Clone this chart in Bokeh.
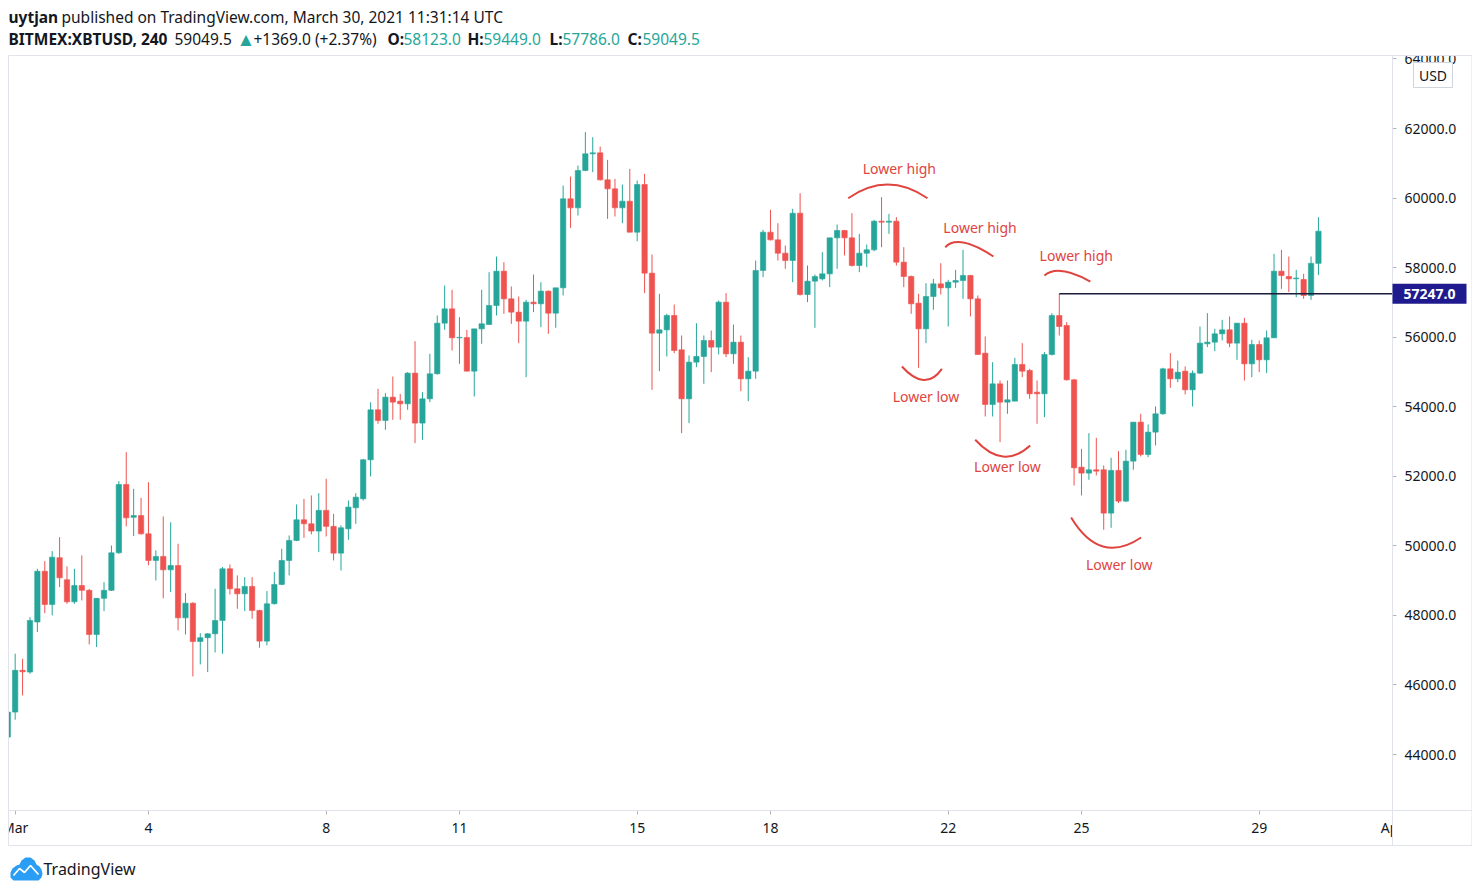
from bokeh.plotting import figure
from bokeh.models import Range1d, FixedTicker, PrintfTickFormatter, ColumnDataSource
from bokeh.core.properties import value
from bokeh.embed import file_html
from bokeh.resources import INLINE

# ---------------- data (4h candles, index 0 = Mar 1 00:00 UTC) ----------------
FIRST_INDEX = -1
opens = [44500, 45220, 46420, 46370, 47810, 49270, 48315, 49660, 49025, 48390,
         48860, 48720, 47450, 48490, 48720, 49800, 51765, 50820, 50870, 50345,
         49580, 49695, 49310, 49435, 47930, 48350, 47250, 47360, 47470, 47855,
         49340, 48765, 48620, 48833, 48143, 47260, 48335, 48890, 49580, 50155,
         50750, 50635, 50425, 51020, 50560, 49790, 50490, 51095, 51353, 52475,
         53912, 53605, 54276, 54160, 54085, 54966, 53530, 54228, 54947, 56403,
         56815, 55982, 55990, 55023, 56240, 56365, 56912, 57898, 57103, 56720,
         56461, 57007, 56960, 57324, 56691, 57420, 59978, 59719, 60793, 61272,
         61300, 60524, 60265, 59719, 59911, 59020, 60390, 57841, 56116, 56212,
         56624, 55637, 54228, 55282, 55445, 55905, 55714, 57007, 55522, 55857,
         54803, 55023, 57918, 59020, 58799, 58416, 58205, 59566, 57227, 57611,
         57678, 57822, 58856, 59067, 58856, 58061, 58416, 58512, 59336, 59307,
         59336, 58157, 57745, 56978, 56240, 57170, 57534, 57419, 57582, 57630,
         57774, 57103, 55541, 54065, 54659, 54132, 54161, 55215, 55043, 54420,
         54372, 55502, 56624, 56336, 54774, 52263, 52091, 52187, 52187, 50941,
         52168, 51286, 52436, 53557, 52627, 53270, 53797, 55090, 54803, 55023,
         54487, 54966, 55810, 55857, 56097, 56212, 55829, 56403, 55234, 55790,
         55349, 55982, 57898, 57745, 57678, 57659, 57199, 58123]
highs = [45250, 46900, 46750, 47950, 49340, 49560, 49850, 50250, 49410, 49340,
         49725, 48760, 48500, 48955, 50010, 51860, 52695, 51640, 51380, 51830,
         49870, 50845, 50680, 50060, 48640, 48380, 47490, 47490, 48765, 49390,
         49465, 49150, 49100, 49100, 48160, 48700, 49245, 49915, 50300, 51190,
         51350, 51450, 51515, 51930, 50920, 50590, 51305, 51515, 52500, 54130,
         54515, 54390, 54870, 54370, 54995, 55885, 54420, 55522, 56625, 57486,
         57362, 56576, 56210, 56240, 57362, 57870, 58320, 58157, 57458, 57170,
         57074, 57803, 57582, 57340, 57420, 60361, 60620, 60936, 61895, 61751,
         61482, 61099, 60553, 60390, 60840, 60505, 60697, 58378, 57247, 56672,
         56940, 56049, 55474, 56403, 56049, 56193, 57055, 57266, 56365, 56049,
         55426, 58205, 59087, 59662, 59278, 58636, 59690, 60141, 58061, 57803,
         58444, 58856, 59240, 59087, 59566, 58972, 58665, 59374, 60026, 59547,
         59451, 58588, 57774, 57247, 57553, 57678, 58128, 57649, 57937, 58511,
         57790, 57199, 56020, 55282, 54755, 54755, 55407, 55829, 55090, 54755,
         55570, 56690, 57247, 56432, 54803, 52790, 53241, 53107, 52311, 52532,
         52723, 52762, 53557, 53797, 53490, 54008, 55120, 55541, 55330, 55157,
         55043, 56307, 56691, 56240, 56499, 56595, 56403, 56557, 55925, 55905,
         56193, 58397, 58512, 58320, 57937, 57822, 58320, 59449]
lows = [44400, 45000, 45700, 46320, 47520, 48065, 48000, 48815, 48335, 48335,
        48430, 47165, 47090, 48125, 48700, 49770, 50560, 50280, 50325, 49440,
        49005, 48490, 48670, 47570, 47450, 46245, 46590, 46370, 46935, 46895,
        48600, 48190, 48123, 47903, 47070, 47135, 48315, 48870, 49150, 50135,
        50230, 50330, 49820, 50270, 49580, 49290, 50175, 50635, 51305, 51995,
        53510, 53337, 53625, 53625, 53912, 52953, 53050, 54132, 54927, 56212,
        55617, 55234, 55020, 54295, 55810, 56365, 56624, 56672, 56384, 55829,
        54851, 56720, 56288, 56097, 56270, 57199, 59144, 59499, 60774, 60745,
        60505, 59403, 59470, 59278, 59020, 58760, 57266, 54487, 55023, 55445,
        55541, 53241, 53529, 55138, 54659, 54995, 55502, 55426, 55234, 54448,
        54161, 54803, 57726, 58780, 58205, 57966, 57582, 57199, 57007, 56269,
        57630, 57438, 57966, 58349, 58032, 57870, 58013, 58473, 58588, 58972,
        58061, 57438, 56672, 55119, 55829, 56787, 57227, 56307, 57419, 57103,
        56595, 55502, 53720, 53720, 52982, 53797, 54161, 54851, 54228, 53509,
        53701, 55474, 56049, 54755, 51736, 51449, 51899, 52024, 50462, 50519,
        51229, 51257, 52187, 52570, 52551, 52887, 53770, 54544, 54707, 54353,
        54008, 54940, 55714, 55599, 55905, 55714, 55349, 54755, 54851, 54995,
        54966, 55982, 57390, 57295, 57151, 57103, 57074, 57786]
closes = [45220, 46420, 46380, 47855, 49270, 48315, 49675, 49080, 48390, 48860,
          48720, 47450, 48490, 48720, 49800, 51765, 50805, 50870, 50345, 49580,
          49695, 49310, 49435, 47930, 48350, 47250, 47360, 47470, 47855, 49340,
          48765, 48620, 48833, 48143, 47260, 48335, 48890, 49580, 50155, 50750,
          50635, 50425, 51020, 50560, 49790, 50520, 51115, 51400, 52475, 53912,
          53605, 54276, 54132, 54085, 54966, 53530, 54228, 54947, 56403, 56815,
          55982, 55995, 55023, 56240, 56385, 56912, 57898, 57103, 56720, 56461,
          57007, 56960, 57324, 56691, 57420, 59978, 59719, 60793, 61272, 61300,
          60524, 60265, 59719, 59911, 59020, 60390, 57841, 56116, 56212, 56624,
          55617, 54228, 55282, 55445, 55905, 55714, 57007, 55522, 55857, 54803,
          55023, 57918, 59020, 58799, 58416, 58205, 59566, 57227, 57611, 57745,
          57822, 58856, 59067, 58856, 58061, 58416, 58512, 59336, 59307, 59336,
          58157, 57745, 56959, 56240, 57170, 57534, 57419, 57582, 57630, 57774,
          57103, 55502, 54065, 54659, 54132, 54200, 55215, 55023, 54372, 54372,
          55502, 56624, 56307, 54774, 52244, 52091, 52187, 52148, 50941, 52168,
          51286, 52436, 53557, 52627, 53270, 53797, 55090, 54803, 54994, 54487,
          54966, 55829, 55857, 56097, 56212, 55829, 56403, 55234, 55790, 55349,
          55982, 57898, 57774, 57678, 57700, 57199, 58123, 59049.5]

x_ticks = [0, 18, 42, 60, 84, 102, 126, 144, 168, 186]
x_tick_labels = ["Mar", "4", "8", "11", "15", "18", "22", "25", "29", "Apr"]
y_ticks = list(range(44000, 64001, 2000))

ref_price = 57247.0
ref_start = 141

# hand-drawn markup (candle index, price)
note_texts = ["Lower high", "Lower high", "Lower high", "Lower low", "Lower low", "Lower low"]
note_x = [119.4, 130.3, 143.3, 123.0, 134.0, 149.1]
note_y = [60850, 59154, 58349, 54295, 52282, 49465]
arc_x0 = [112.5, 125.6, 139.0, 119.75, 129.65, 142.6]
arc_y0 = [59996, 58587, 57774, 55157, 53050, 50816]
arc_cx = [117.8, 127.35, 140.85, 122.9, 133.43, 146.5]
arc_cy = [60784, 58981, 58119, 54410, 52168, 49436]
arc_x1 = [123.2, 132.1, 145.2, 125.15, 137.07, 152.05]
arc_y1 = [59996, 58320, 57601, 55091, 52886, 50241]

# ---------------- layout ----------------
W, H = 1472, 884
BOX_L, BOX_R, BOX_T, BOX_B, BOX_FOOT, BOX_RR = 8, 1392, 55, 810, 845, 1471.5
PANE_X = (-0.9, 186.0)          # candle index range shown in the pane
PANE_Y = (42390.0, 64100.0)     # price range shown in the pane
SX = (PANE_X[1] - PANE_X[0]) / (BOX_R - BOX_L)
SY = (PANE_Y[1] - PANE_Y[0]) / (BOX_B - BOX_T)


def kx(px):
    return PANE_X[0] + (px - BOX_L) * SX


def vy(py):
    return PANE_Y[1] - (py - BOX_T) * SY


FONT = "Noto Sans"
DARK = "#131722"
UP = "#26a69a"
DOWN = "#ef5350"
MARK = "#e0443e"
FRAME = "#e0e3eb"

p = figure(width=W, height=H, x_range=Range1d(kx(0), kx(W)),
           y_range=Range1d(vy(H), vy(0)), output_backend="svg",
           toolbar_location=None, y_axis_location="right",
           min_border=0, min_border_left=0, min_border_right=0,
           min_border_top=0, min_border_bottom=0)
p.background_fill_color = "white"
p.border_fill_color = "white"
p.outline_line_color = None
p.xgrid.grid_line_color = None
p.ygrid.grid_line_color = None

# axes (library axes, pinned to the pane edges)
p.yaxis.ticker = FixedTicker(ticks=y_ticks)
p.yaxis.formatter = PrintfTickFormatter(format="%.1f")
p.xaxis.ticker = FixedTicker(ticks=x_ticks)
p.xaxis.major_label_overrides = {t: l for t, l in zip(x_ticks, x_tick_labels)}
p.yaxis.fixed_location = kx(BOX_R)
p.xaxis.fixed_location = vy(BOX_B)
for ax in (p.xaxis, p.yaxis):
    ax.axis_line_color = None
    ax.major_tick_line_color = "#b2b5be"
    ax.major_tick_out = 4
    ax.major_tick_in = 0
    ax.minor_tick_line_color = None
    ax.major_label_text_font = FONT
    ax.major_label_text_font_size = "14px"
    ax.major_label_text_color = DARK
p.yaxis.major_label_standoff = 8
p.xaxis.major_label_standoff = 3

# candles
idx = list(range(FIRST_INDEX, FIRST_INDEX + len(opens)))
colors = [UP if c >= o else DOWN for o, c in zip(opens, closes)]
src = ColumnDataSource(dict(
    x=idx, h=highs, l=lows,
    top=[max(o, c) for o, c in zip(opens, closes)],
    bottom=[min(o, c) for o, c in zip(opens, closes)],
    color=colors))
p.segment(x0="x", y0="h", x1="x", y1="l", line_color="color", line_width=1, source=src)
p.vbar(x="x", width=0.72, top="top", bottom="bottom", fill_color="color",
       line_color="color", line_width=0.6, source=src)

# reference level from the swing high
p.segment(x0=[ref_start], y0=[ref_price], x1=[kx(BOX_R)], y1=[ref_price],
          line_color="#1b1d3a", line_width=1.5)

# markup arcs and notes
p.quadratic(x0=arc_x0, y0=arc_y0, x1=arc_x1, y1=arc_y1, cx=arc_cx, cy=arc_cy,
            line_color=MARK, line_width=2)
p.text(x=note_x, y=note_y, text=note_texts, text_font=value(FONT),
       text_font_size="14px", text_color=MARK, text_align="center",
       text_baseline="middle")

# masks (over the axes) to clip at the pane borders
for (l, r, t, b) in [(0, BOX_L - 0.5, BOX_T, BOX_FOOT),
                     (BOX_R + 0.5, W, 30, BOX_T - 0.5),
                     (BOX_R + 0.5, W, BOX_B + 0.5, BOX_FOOT - 0.5)]:
    p.quad(left=[kx(l)], right=[kx(r)], top=[vy(t)], bottom=[vy(b)],
           fill_color="white", line_color=None, level="overlay")

# pane borders
hx0 = [kx(BOX_L)] * 3
hx1 = [kx(BOX_RR)] * 3
hy = [vy(BOX_T), vy(BOX_B), vy(BOX_FOOT)]
p.segment(x0=hx0, y0=hy, x1=hx1, y1=hy, line_color=FRAME, line_width=1, level="overlay")
vx = [kx(BOX_L), kx(BOX_R), kx(BOX_RR)]
p.segment(x0=vx, y0=[vy(BOX_T)] * 3, x1=vx, y1=[vy(BOX_FOOT)] * 3,
          line_color=FRAME, line_width=1, level="overlay")

# USD badge
p.quad(left=[kx(1413)], right=[kx(1452)], top=[vy(62)], bottom=[vy(87)],
       fill_color="white", line_color="#d1d4dc", line_width=1, level="overlay")
p.text(x=[kx(1432.5)], y=[vy(74.5)], text=["USD"], text_font=value(FONT),
       text_font_size="14px", text_color=DARK, text_align="center",
       text_baseline="middle", level="overlay")

# last-level price tag
p.quad(left=[kx(BOX_R)], right=[kx(1466)], top=[ref_price + 10 * SY],
       bottom=[ref_price - 10 * SY], fill_color="#1f1b8e", line_color=None,
       level="overlay")
p.text(x=[kx(1429)], y=[ref_price], text=[f"{ref_price:.1f}"], text_font=value(FONT),
       text_font_size="14px", text_font_style="bold", text_color="white",
       text_align="center", text_baseline="middle", level="overlay")

# header
header = [
    ("uytjan", 8, 16, DARK, "bold", "15.5px"),
    ("published on TradingView.com, March 30, 2021 11:31:14 UTC", 61, 16, DARK, "normal", "15.5px"),
    ("BITMEX:XBTUSD, 240", 8, 38, DARK, "bold", "15.5px"),
    ("59049.5", 174, 38, DARK, "normal", "15.5px"),
    ("\u25B2", 236, 38, UP, "normal", "19px"),
    ("+1369.0 (+2.37%)", 253, 38, DARK, "normal", "15.5px"),
    ("O:", 387, 38, DARK, "bold", "15.5px"),
    ("58123.0", 403, 38, UP, "normal", "15.5px"),
    ("H:", 467, 38, DARK, "bold", "15.5px"),
    ("59449.0", 483, 38, UP, "normal", "15.5px"),
    ("L:", 549, 38, DARK, "bold", "15.5px"),
    ("57786.0", 562, 38, UP, "normal", "15.5px"),
    ("C:", 627, 38, DARK, "bold", "15.5px"),
    ("59049.5", 642, 38, UP, "normal", "15.5px"),
]
for txt, px, py, col, sty, size in header:
    p.text(x=[kx(px)], y=[vy(py)], text=[txt], text_font=value(FONT),
           text_font_size=size, text_font_style=sty, text_color=col,
           text_align="left", text_baseline="middle")

# footer logo + wordmark
cloud = [(10, 877), (10, 872), (12, 868), (16, 865), (19, 864), (21, 860), (25, 857),
         (30, 857), (34, 860), (36, 864), (39, 866), (41, 869), (42, 873), (41, 877),
         (38, 880), (13, 880)]
p.patch(x=[kx(a) for a, b in cloud], y=[vy(b) for a, b in cloud],
        fill_color="#2a9df4", line_color=None)
zig = [(13, 875), (19, 868), (24, 872), (30, 865), (38, 874)]
p.line(x=[kx(a) for a, b in zig], y=[vy(b) for a, b in zig],
       line_color="white", line_width=1.8)
p.text(x=[kx(43)], y=[vy(868)], text=["TradingView"], text_font=value(FONT),
       text_font_size="16px", text_color=DARK, text_align="left",
       text_baseline="middle")

open("out.html", "w").write(file_html(p, INLINE))
